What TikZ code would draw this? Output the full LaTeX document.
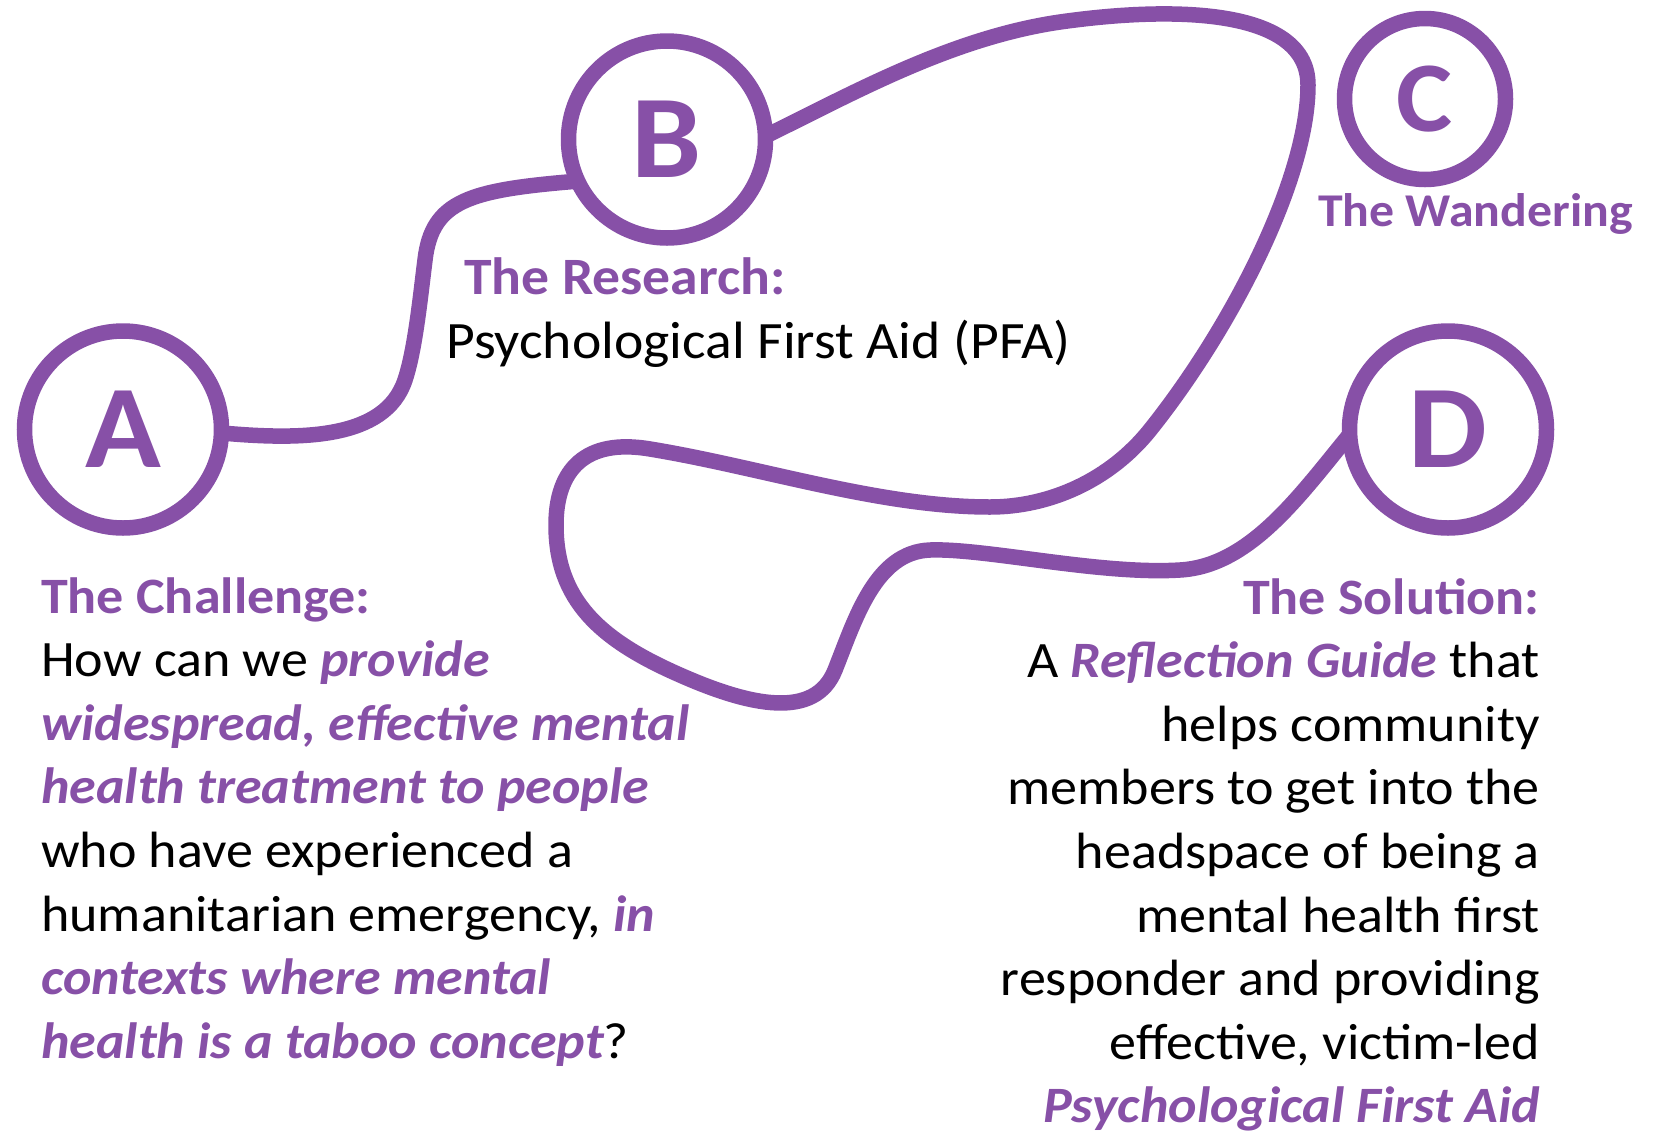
\documentclass[tikz,border=0pt]{standalone}
\usepackage{fontspec}
\setmainfont{Carlito}[FakeStretch=1.06]
\definecolor{pur}{RGB}{135,80,167}
\newcommand\ltrfont{\fontsize{118}{118}\selectfont\bfseries}
\newcommand\cltrfont{\fontsize{100}{100}\selectfont\bfseries}
\newcommand\bodyfont{\fontsize{51}{63.6}\selectfont}
\newcommand\resfont{\fontsize{52.5}{63.6}\selectfont}
\newcommand\wandfont{\fontsize{47}{58}\selectfont}
\newcommand\hl[1]{\textcolor{pur}{\bfseries\itshape #1}}
\newcommand\hd[1]{\textcolor{pur}{\bfseries #1}}
\tikzset{
  ring/.style={circle, draw=pur, line width=15.5pt, inner sep=0pt, outer sep=0pt, text=pur},
  path/.style={draw=pur, line width=15.5pt},
  txt/.style={inner sep=0pt, font=\bodyfont}
}
\begin{document}
\begin{tikzpicture}[x=1pt,y=-1pt]
\useasboundingbox (0,0) rectangle (1658,1136);

% milestone circles
\node[ring, minimum size=197pt, font=\ltrfont] (A) at (123,429.5) {A};
\node[ring, minimum size=197pt, font=\ltrfont] (B) at (667,139.5) {B};
\node[ring, minimum size=161pt, font=\cltrfont] (C) at (1425,99) {C};
\node[ring, minimum size=197pt, font=\ltrfont] (D) at (1448,429.5) {D};

% path from A to B
\draw[path] (A.-2) .. controls (300,440) and (385,440) .. (405,380)
  .. controls (415,350) and (420,300) .. (425,260)
  .. controls (432,200) and (470,190) .. (B.205);

% wandering path from B to D
\draw[path] (B.2) .. controls (850,95) and (950,38) .. (1060,22)
  .. controls (1180,5) and (1308,10) .. (1308,85)
  .. controls (1308,180) and (1230,330) .. (1150,430)
  .. controls (1110,480) and (1050,507) .. (990,507)
  .. controls (880,507) and (760,467) .. (650,449)
  .. controls (585,438) and (556,470) .. (556,525)
  .. controls (556,600) and (600,640) .. (680,675)
  .. controls (750,706) and (815,720) .. (835,670)
  .. controls (855,620) and (875,552) .. (930,550)
  .. controls (985,548) and (1100,575) .. (1180,570)
  .. controls (1250,566) and (1300,495) .. (D.183);

% labels
\node[inner sep=0pt, font=\resfont, anchor=base west] (res) at (464,294) {\hd{The Research:}};
\node[inner sep=0pt, font=\resfont, anchor=base west] (pfa) at (446,358) {Psychological First Aid (PFA)};
\node[inner sep=0pt, font=\wandfont, anchor=base west] (wand) at (1318,226) {\hd{The Wandering}};

\node[txt, anchor=base west] (chal) at (41,613) {\begin{tabular}[t]{@{}l@{}}
\hd{The Challenge:}\\
How can we \hl{provide}\\
\hl{widespread, effective mental}\\
\hl{health treatment to people}\\
who have experienced a\\
humanitarian emergency, \hl{in}\\
\hl{contexts where mental}\\
\hl{health is a taboo concept}?
\end{tabular}};

\node[txt, anchor=base east] (sol) at (1540,614) {\begin{tabular}[t]{@{}r@{}}
\hd{The Solution:}\\
A \hl{Reflection Guide} that\\
helps community\\
members to get into the\\
headspace of being a\\
mental health first\\
responder and providing\\
effective, victim-led\\
\hl{Psychological First Aid}
\end{tabular}};
\end{tikzpicture}
\end{document}
